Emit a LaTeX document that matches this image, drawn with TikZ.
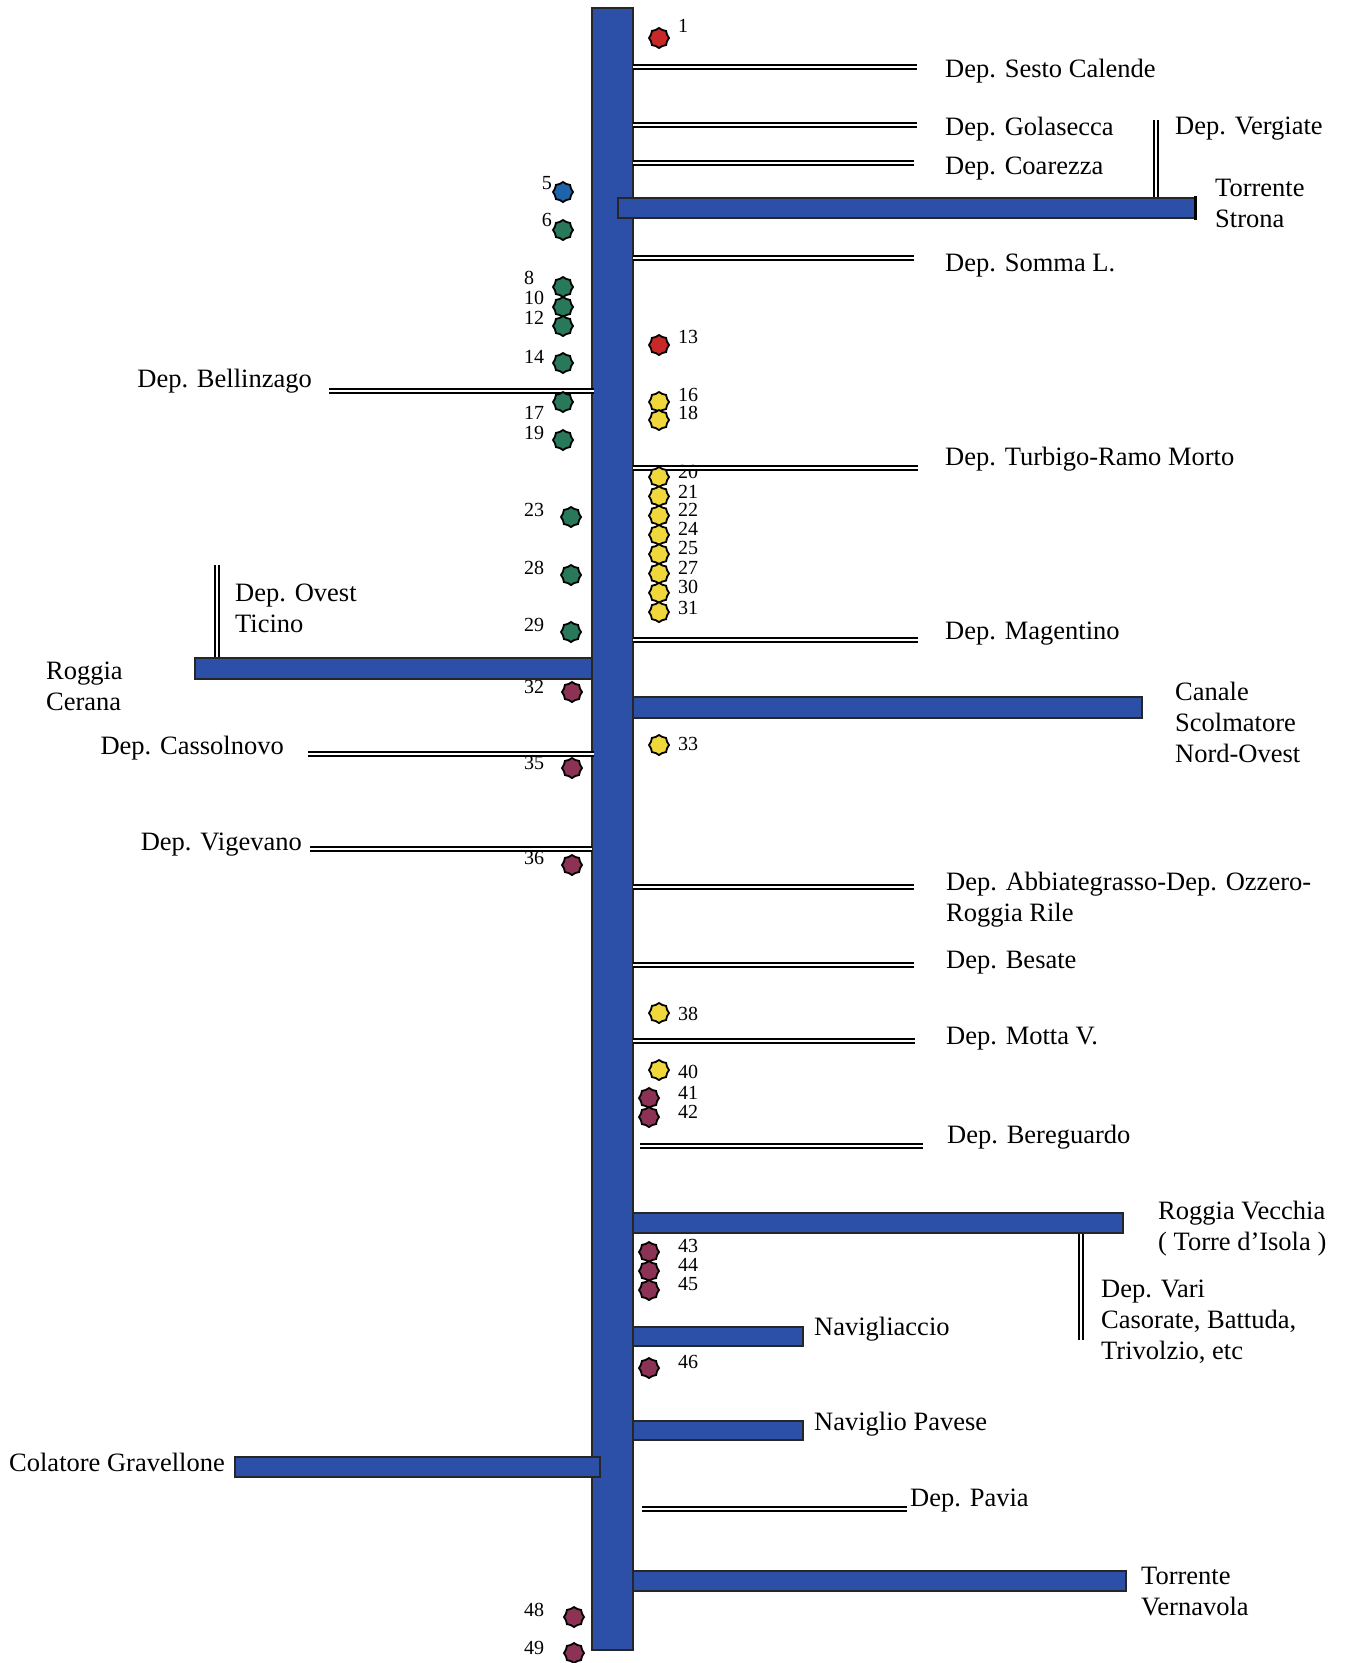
\documentclass[tikz,border=0pt]{standalone}
\usepackage{fontspec}
\setmainfont{Liberation Serif}
\usepackage{tikz}
\usetikzlibrary{shapes.geometric}
\definecolor{riverblue}{RGB}{44,80,168}
\definecolor{sitered}{RGB}{200,40,40}
\definecolor{siteblue}{RGB}{30,100,170}
\definecolor{sitegreen}{RGB}{40,120,90}
\definecolor{siteyellow}{RGB}{240,215,60}
\definecolor{siteplum}{RGB}{140,50,85}

\begin{document}
\begin{tikzpicture}[x=1pt,y=-1pt,font=\fontsize{26.5}{31}\selectfont,
  canal/.style={fill=riverblue,draw=black!85,line width=1.2pt},
  dep/.style={draw=black,double=white,line width=1.6pt,double distance=2.6pt},
  lbl/.style={anchor=west,inner sep=0pt,align=left,yshift=-2pt},
  lbll/.style={anchor=east,inner sep=0pt,align=left,yshift=-2pt},
  num/.style={anchor=west,inner sep=0pt,font=\fontsize{20}{20}\selectfont},
  site/.style={star,star points=8,star point ratio=1.15,minimum size=20pt,
    inner sep=0pt,draw=black,line width=1.8pt,fill=#1}]
  \fill[white] (0,0) rectangle (1346,1663);
  \useasboundingbox (0,0) rectangle (1346,1663);
  \draw[canal] (592,8) rectangle (633,1650);
  % station numbers
  \node[num] (n1) at (678,26) {1};
  \node[num,anchor=east] (n5) at (552,183) {5};
  \node[num,anchor=east] (n6) at (552,220) {6};
  \node[num] (n8) at (524,278) {8};
  \node[num] (n10) at (524,298) {10};
  \node[num] (n12) at (524,318) {12};
  \node[num] (n13) at (678,337) {13};
  \node[num] (n14) at (524,357) {14};
  \node[num] (n16) at (678,395) {16};
  \node[num] (n17) at (524,413) {17};
  \node[num] (n18) at (678,413) {18};
  \node[num] (n19) at (524,433) {19};
  \node[num] (n20) at (678,472) {20};
  \node[num] (n21) at (678,492) {21};
  \node[num] (n22) at (678,510) {22};
  \node[num] (n23) at (524,510) {23};
  \node[num] (n24) at (678,529) {24};
  \node[num] (n25) at (678,548) {25};
  \node[num] (n27) at (678,568) {27};
  \node[num] (n28) at (524,568) {28};
  \node[num] (n30) at (678,587) {30};
  \node[num] (n31) at (678,608) {31};
  \node[num] (n29) at (524,625) {29};
  \node[num] (n32) at (524,687) {32};
  \node[num] (n33) at (678,744) {33};
  \node[num] (n35) at (524,763) {35};
  \node[num] (n36) at (524,858) {36};
  \node[num] (n38) at (678,1014) {38};
  \node[num] (n40) at (678,1072) {40};
  \node[num] (n41) at (678,1093) {41};
  \node[num] (n42) at (678,1112) {42};
  \node[num] (n43) at (678,1246) {43};
  \node[num] (n44) at (678,1265) {44};
  \node[num] (n45) at (678,1284) {45};
  \node[num] (n46) at (678,1362) {46};
  \node[num] (n48) at (524,1610) {48};
  \node[num] (n49) at (524,1648) {49};
  % depuratori
  \draw[dep] (633,67) -- (917,67);
  \draw[dep] (633,125) -- (917,125);
  \draw[dep] (633,163) -- (914,163);
  \draw[dep] (1156,120) -- (1156,198);
  \draw[dep] (633,258) -- (914,258);
  \draw[dep] (329,391) -- (594,391);
  \draw[dep] (633,468) -- (918,468);
  \draw[dep] (217,565) -- (217,658);
  \draw[dep] (633,640) -- (918,640);
  \draw[dep] (308,754) -- (594,754);
  \draw[dep] (310,849) -- (592,849);
  \draw[dep] (633,887) -- (914,887);
  \draw[dep] (633,965) -- (914,965);
  \draw[dep] (633,1041) -- (915,1041);
  \draw[dep] (640,1146) -- (923,1146);
  \draw[dep] (1081,1233) -- (1081,1340);
  \draw[dep] (642,1509) -- (907,1509);
  % affluenti
  \draw[canal] (618,198) rectangle (1195,218);
  \draw[black,line width=3pt] (1195,196) -- (1195,220);
  \draw[canal] (195,658) rectangle (592,679);
  \draw[canal] (633,697) rectangle (1142,718);
  \draw[canal] (633,1213) rectangle (1123,1233);
  \draw[canal] (633,1327) rectangle (803,1346);
  \draw[canal] (633,1421) rectangle (803,1440);
  \draw[canal] (235,1457) rectangle (600,1477);
  \draw[canal] (633,1571) rectangle (1126,1591);
  % stazioni
  \node[site=sitered] (s1) at (659,38) {};
  \node[site=siteblue] (s5) at (563,192) {};
  \node[site=sitegreen] (s6) at (563,230) {};
  \node[site=sitegreen] (s8) at (563,287) {};
  \node[site=sitegreen] (s10) at (563,307) {};
  \node[site=sitegreen] (s12) at (563,326) {};
  \node[site=sitered] (s13) at (659,345) {};
  \node[site=sitegreen] (s14) at (563,363) {};
  \node[site=siteyellow] (s16) at (659,402) {};
  \node[site=sitegreen] (s17) at (563,402) {};
  \node[site=siteyellow] (s18) at (659,420) {};
  \node[site=sitegreen] (s19) at (563,440) {};
  \node[site=siteyellow] (s20) at (659,477) {};
  \node[site=siteyellow] (s21) at (659,496.3) {};
  \node[site=siteyellow] (s22) at (659,515.6) {};
  \node[site=sitegreen] (s23) at (571,517) {};
  \node[site=siteyellow] (s24) at (659,534.9) {};
  \node[site=siteyellow] (s25) at (659,554.2) {};
  \node[site=siteyellow] (s27) at (659,573.5) {};
  \node[site=sitegreen] (s28) at (571,575) {};
  \node[site=siteyellow] (s30) at (659,592.8) {};
  \node[site=siteyellow] (s31) at (659,612.1) {};
  \node[site=sitegreen] (s29) at (571,632) {};
  \node[site=siteplum] (s32) at (572,692) {};
  \node[site=siteyellow] (s33) at (659,745) {};
  \node[site=siteplum] (s35) at (572,768) {};
  \node[site=siteplum] (s36) at (572,865) {};
  \node[site=siteyellow] (s38) at (659,1013) {};
  \node[site=siteyellow] (s40) at (659,1070) {};
  \node[site=siteplum] (s41) at (649,1098) {};
  \node[site=siteplum] (s42) at (649,1117) {};
  \node[site=siteplum] (s43) at (649,1252) {};
  \node[site=siteplum] (s44) at (649,1271) {};
  \node[site=siteplum] (s45) at (649,1290) {};
  \node[site=siteplum] (s46) at (649,1368) {};
  \node[site=siteplum] (s48) at (574,1617) {};
  \node[site=siteplum] (s49) at (574,1653) {};
  % nomi
  \node[lbl] (sesto) at (945,69) {Dep. Sesto Calende};
  \node[lbl] (golasecca) at (945,127) {Dep. Golasecca};
  \node[lbl] (vergiate) at (1175,127) {Dep. Vergiate};
  \node[lbl] (coarezza) at (945,167) {Dep. Coarezza};
  \node[lbl] (strona) at (1215,201.5) {Torrente\\Strona};
  \node[lbl] (somma) at (945,264) {Dep. Somma L.};
  \node[lbll] (bellinzago) at (312,379) {Dep. Bellinzago};
  \node[lbl] (turbigo) at (945,457) {Dep. Turbigo-Ramo Morto};
  \node[lbl] (ovest) at (235,606.5) {Dep. Ovest\\Ticino};
  \node[lbl] (magentino) at (945,632) {Dep. Magentino};
  \node[lbl] (cerana) at (46,684.5) {Roggia\\Cerana};
  \node[lbl] (scolmatore) at (1175,720) {Canale\\Scolmatore\\Nord-Ovest};
  \node[lbll] (cassolnovo) at (284,746) {Dep. Cassolnovo};
  \node[lbll] (vigevano) at (302,843) {Dep. Vigevano};
  \node[lbl] (abbiategrasso) at (946,898) {Dep. Abbiategrasso-Dep. Ozzero-\\Roggia Rile};
  \node[lbl] (besate) at (946,961) {Dep. Besate};
  \node[lbl] (motta) at (946,1037) {Dep. Motta V.};
  \node[lbl] (bereguardo) at (947,1135) {Dep. Bereguardo};
  \node[lbl] (vecchia) at (1158,1227) {Roggia Vecchia\\( Torre d’Isola )};
  \node[lbl] (vari) at (1101,1320) {Dep. Vari\\Casorate, Battuda,\\Trivolzio, etc};
  \node[lbl] (navigliaccio) at (814,1327) {Navigliaccio};
  \node[lbl] (pavese) at (814,1422) {Naviglio Pavese};
  \node[lbll] (gravellone) at (225,1460) {Colatore Gravellone};
  \node[lbl] (pavia) at (910,1499) {Dep. Pavia};
  \node[lbl] (vernavola) at (1141,1590) {Torrente\\Vernavola};
\end{tikzpicture}
\end{document}
